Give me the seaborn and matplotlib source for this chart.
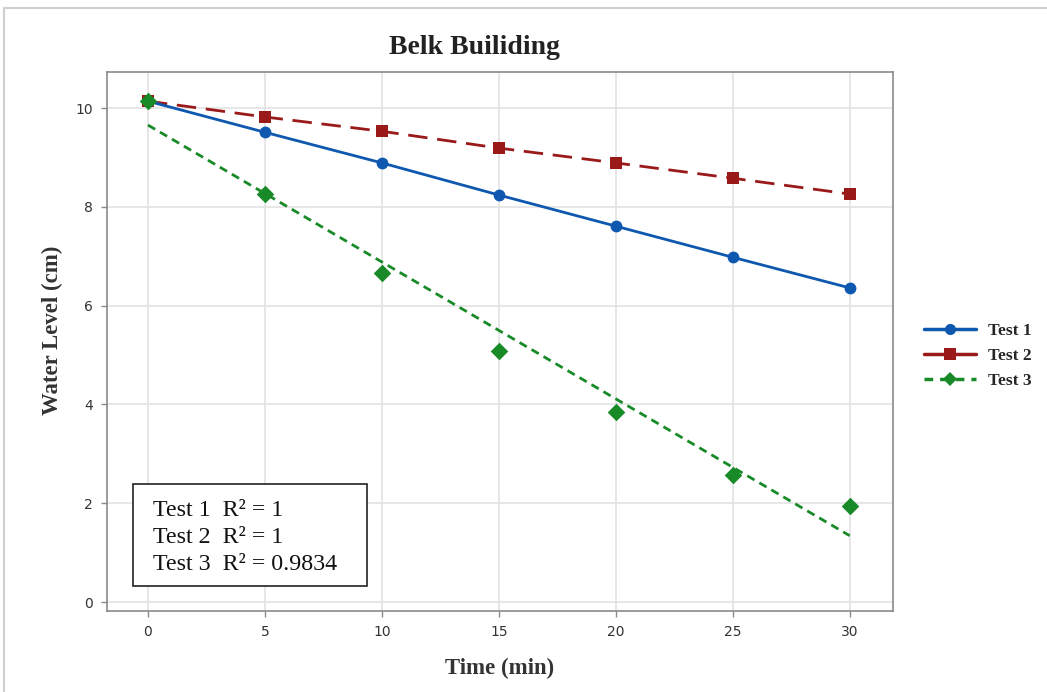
import numpy as np
import pandas as pd
import matplotlib
matplotlib.use("Agg")
import matplotlib.pyplot as plt
from matplotlib.lines import Line2D
from matplotlib.patches import Rectangle
import seaborn as sns

time_min = [0, 5, 10, 15, 20, 25, 30]
test1 = [10.14, 9.51, 8.89, 8.24, 7.61, 6.98, 6.36]
test2 = [10.14, 9.82, 9.53, 9.19, 8.89, 8.58, 8.26]
test3 = [10.14, 8.26, 6.66, 5.08, 3.85, 2.57, 1.94]
series_names = ["Test 1", "Test 2", "Test 3"]
r2_labels = ["Test 1  R² = 1", "Test 2  R² = 1", "Test 3  R² = 0.9834"]

c1, c2, c3 = "#0E58B0", "#9A1A1A", "#188A28"

sns.set_theme(style="whitegrid")
plt.rcParams["font.family"] = ["DejaVu Sans"]

W, H = 1047, 692
fig = plt.figure(figsize=(W/100, H/100), dpi=100)
ax = fig.add_axes([107/W, 1-611/H, (893-107)/W, (611-72)/H])

df = pd.DataFrame({"t": time_min, "t1": test1, "t2": test2, "t3": test3})

sns.lineplot(data=df, x="t", y="t1", ax=ax, color=c1, lw=2.0, marker="o",
             markersize=8.5, markeredgewidth=0, zorder=4)
sns.lineplot(data=df, x="t", y="t2", ax=ax, color=c2, lw=2.0, marker="s",
             markersize=8.5, markeredgewidth=0, zorder=3)
ax.lines[-1].set_dashes((7, 3.5))
sns.regplot(data=df, x="t", y="t3", ax=ax, ci=None, scatter=False, truncate=True,
            line_kws=dict(color=c3, lw=2.0, ls=(0, (3, 2)), zorder=2))
sns.scatterplot(data=df, x="t", y="t3", ax=ax, color=c3, marker="D", s=80,
                linewidth=0, zorder=5)

ax.set_xlim(-1.75, 31.85)
ax.set_ylim(-0.18, 10.73)
ax.set_xticks(time_min)
ax.set_yticks([0, 2, 4, 6, 8, 10])
ax.grid(True, color="#E3E3E3", lw=1.2)
for s in ax.spines.values():
    s.set_color("#8A8A8A")
    s.set_linewidth(1.2)
ax.tick_params(axis="both", which="both", length=4, width=1, color="#8A8A8A",
               labelsize=10, labelcolor="#333333", bottom=True, left=True, pad=6)

serif = ["Liberation Serif", "DejaVu Serif"]
ax.set_xlabel("Time (min)", fontsize=16.4, fontweight="bold", family=serif,
              color="#333333")
ax.set_ylabel("Water Level (cm)", fontsize=16.4, fontweight="bold", family=serif,
              color="#333333")
ax.xaxis.set_label_coords(0.5, -(668-611)/(611-72), transform=ax.transAxes)
ax.xaxis.label.set_va("center")
ax.yaxis.set_label_coords(-(107-52)/(893-107), (611-330)/(611-72), transform=ax.transAxes)
ax.yaxis.label.set_va("center")
fig.text(474/W, 1-48/H, "Belk Builiding", fontsize=20, fontweight="bold", family=serif,
         color="#222222", ha="center", va="center")

handles = [
    Line2D([], [], color=c1, lw=2.5, marker="o", markersize=8, markeredgewidth=0),
    Line2D([], [], color=c2, lw=2.5, marker="s", markersize=8, markeredgewidth=0),
    Line2D([], [], color=c3, lw=2.5, marker="D", markersize=7.5, markeredgewidth=0,
           ls=(0, (2.5, 2))),
]
fig.legend(handles, series_names, loc="center left", bbox_to_anchor=(908/W, 1-356/H),
           frameon=False, prop=dict(family=serif, size=12.5, weight="bold"),
           handlelength=3.0, labelspacing=0.5, handletextpad=0.7)

# R² box
fig.add_artist(Rectangle((133/W, 1-586/H), (367-133)/W, (586-484)/H,
                         transform=fig.transFigure, facecolor="white",
                         edgecolor="#222222", lw=1.2, zorder=10))
for i, lab in enumerate(r2_labels):
    fig.text(153/W, 1-(510+27.5*i)/H, lab, family=serif, fontsize=17.3,
             color="#111111", ha="left", va="center", zorder=11)

# figure frame
fig.add_artist(Line2D([4/W, 4/W], [0, 1-8/H], transform=fig.transFigure,
                      color="#CFCFCF", lw=1.5))
fig.add_artist(Line2D([4/W, 1], [1-8/H, 1-8/H], transform=fig.transFigure,
                      color="#CFCFCF", lw=1.5))

fig.savefig("out.png", dpi=100)
